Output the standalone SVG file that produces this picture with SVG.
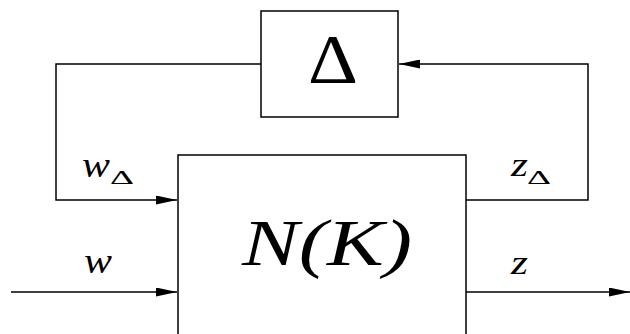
<svg xmlns="http://www.w3.org/2000/svg" width="630" height="334" viewBox="0 0 630 334">
<style>
.box{fill:#fff;stroke:#000;stroke-width:1.5}
.ln{fill:none;stroke:#000;stroke-width:1.5}
.it{font-family:"Liberation Serif","DejaVu Serif",serif;font-style:italic;fill:#000}
.up{font-family:"Liberation Serif","DejaVu Serif",serif;fill:#000}
</style>
<defs>
<marker id="ah" markerWidth="21" markerHeight="9" refX="21" refY="4.5" orient="auto" markerUnits="userSpaceOnUse">
<path d="M0,0 L21,4.5 L0,9 Z" fill="#000"/>
</marker>
</defs>
<g id="connectors">
<path class="ln" d="M261,64 H56 V200 H177" marker-end="url(#ah)"/>
<path class="ln" d="M466,200 H588 V64 H399" marker-end="url(#ah)"/>
<path class="ln" d="M11,292 H177" marker-end="url(#ah)"/>
<path class="ln" d="M466,292 H630" marker-end="url(#ah)"/>
</g>
<g id="delta">
<rect class="box" x="261" y="11" width="137" height="106"/>
<text class="up" x="308" y="83" font-size="70" textLength="50" lengthAdjust="spacingAndGlyphs">Δ</text>
</g>
<g id="nk">
<rect class="box" x="178" y="155" width="288" height="190"/>
<text class="it" x="242" y="265" font-size="66" textLength="170" lengthAdjust="spacingAndGlyphs">N(K)</text>
</g>
<g id="labels">
<text class="it" x="82" y="177" font-size="35" textLength="28" lengthAdjust="spacingAndGlyphs">w</text>
<text class="up" x="110" y="184" font-size="18" textLength="24" lengthAdjust="spacingAndGlyphs">Δ</text>
<text class="it" x="511" y="176" font-size="33" textLength="17" lengthAdjust="spacingAndGlyphs">z</text>
<text class="up" x="527" y="184" font-size="18" textLength="24" lengthAdjust="spacingAndGlyphs">Δ</text>
<text class="it" x="84" y="273" font-size="35" textLength="28" lengthAdjust="spacingAndGlyphs">w</text>
<text class="it" x="511" y="274" font-size="33" textLength="17" lengthAdjust="spacingAndGlyphs">z</text>
</g>
</svg>
